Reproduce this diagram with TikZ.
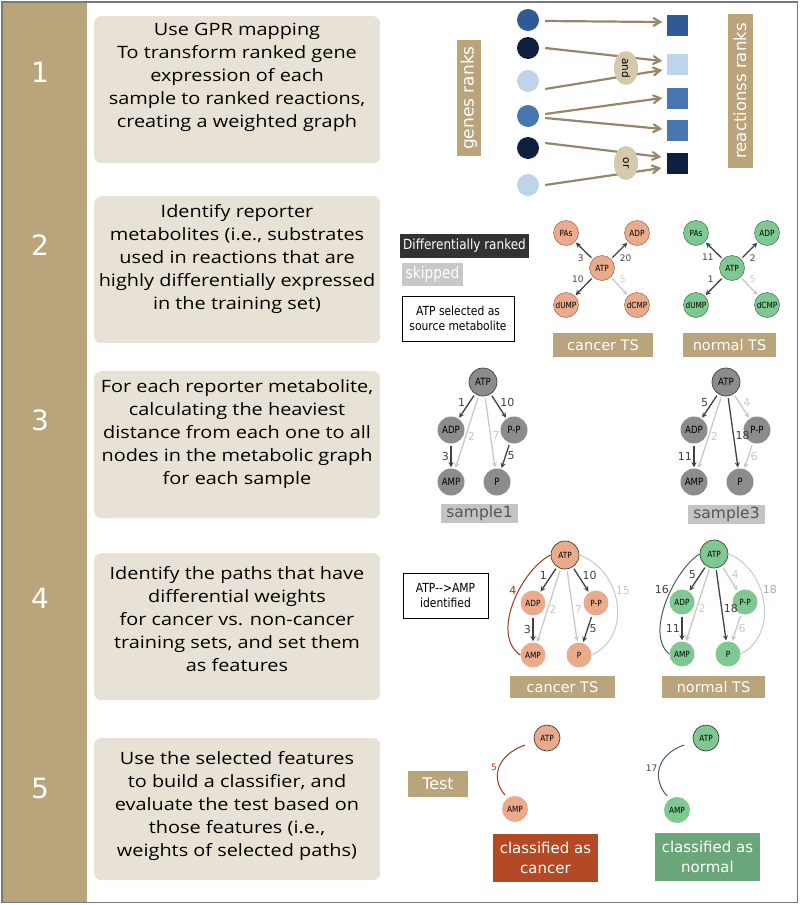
\documentclass[tikz,border=0pt]{standalone}
\usepackage{fontspec}
\setmainfont[FakeStretch=1.17]{Open Sans}
\newfontfamily\vfont{DejaVu Sans}
\newfontfamily\cfont[FakeStretch=0.86]{DejaVu Sans}
\usepackage{tikz}
\usetikzlibrary{arrows,shapes,calc}
\usetikzlibrary{positioning}

\definecolor{tanc}{RGB}{185,164,123}
\definecolor{boxc}{RGB}{232,226,214}
\definecolor{framec}{RGB}{120,120,120}
\definecolor{gatec}{RGB}{214,200,170}
\definecolor{arrtan}{RGB}{150,135,105}
\definecolor{blueA}{RGB}{47,90,150}
\definecolor{blueB}{RGB}{72,118,175}
\definecolor{blueD}{RGB}{14,32,62}
\definecolor{blueL}{RGB}{190,212,234}
\definecolor{salm}{RGB}{234,170,140}
\definecolor{salmb}{RGB}{140,80,55}
\definecolor{greenc}{RGB}{128,200,146}
\definecolor{greenb}{RGB}{45,90,60}
\definecolor{grayn}{RGB}{140,140,140}
\definecolor{darka}{RGB}{65,65,65}
\definecolor{lighta}{RGB}{200,200,200}
\definecolor{brownarc}{RGB}{150,60,30}
\definecolor{slatearc}{RGB}{70,95,85}
\definecolor{lightgrn}{RGB}{150,180,160}
\definecolor{cancc}{RGB}{180,73,38}
\definecolor{normc}{RGB}{106,166,122}
\definecolor{legdark}{RGB}{50,50,50}
\definecolor{smpc}{RGB}{196,196,196}
\definecolor{smptext}{RGB}{85,85,85}

\tikzstyle{stepbox}=[fill=boxc,rounded corners=7pt,minimum width=286pt,inner sep=0]
\tikzstyle{steptext}=[align=center,font=\fontsize{17}{23}\selectfont,inner sep=0]
\tikzstyle{stepnum}=[text=white,font=\vfont\fontsize{28}{28}\selectfont]
\tikzstyle{tag}=[fill=tanc,text=white,inner sep=0pt,font=\vfont\fontsize{14.5}{14.5}\selectfont]
\tikzstyle{smp}=[tag,fill=smpc,text=smptext,minimum width=77pt,minimum height=19pt,font=\vfont\fontsize{15.5}{15.5}\selectfont]
\tikzstyle{gene}=[circle,inner sep=0,minimum size=22pt]
\tikzstyle{rxn}=[inner sep=0,minimum size=21pt]
\tikzstyle{gpr}=[->,>=angle 60,draw=arrtan,line width=2.2pt]
\tikzstyle{gate}=[ellipse,fill=gatec,inner sep=0,minimum width=34pt,minimum height=24pt,rotate=-90,font=\vfont\fontsize{10.5}{10.5}\selectfont]
\tikzstyle{met}=[circle,inner sep=0,minimum size=25pt,font=\cfont\fontsize{8.5}{8.5}\selectfont]
\tikzstyle{cmet}=[met,fill=salm]
\tikzstyle{nmet}=[met,fill=greenc]
\tikzstyle{smet}=[met,fill=grayn,minimum size=27pt,font=\cfont\fontsize{10}{10}\selectfont]
\tikzstyle{rim}=[draw=black!75,line width=0.7pt]
\tikzstyle{hvy}=[->,>=stealth,draw=darka,line width=1.3pt,shorten >=1pt,shorten <=2pt]
\tikzstyle{skp}=[hvy,draw=lighta]
\tikzstyle{wt}=[font=\vfont\fontsize{11}{11}\selectfont,text=darka,inner sep=1.5pt]
\tikzstyle{wts}=[wt,text=lighta]
\tikzstyle{wtt}=[wt,font=\vfont\fontsize{9}{9}\selectfont]
\tikzstyle{legend}=[draw=black,line width=0.8pt,fill=white,align=center,font=\cfont\fontsize{12.5}{15}\selectfont]

\newcommand{\steprow}[6]{\node[stepbox,anchor=north west,minimum height=#3pt] (box#1) at (94,#2) {};
  \node[steptext] (txt#1) at (237,#4) {#5};
  \node[stepnum] (num#1) at (40,#6) {#1};}
\newcommand{\cross}[7]{\node[#3] (#1atp) at #2 {ATP};
  \node[#3] (#1pas) at ($(#1atp)+(-36,-35)$) {PAs};
  \node[#3] (#1adp) at ($(#1atp)+(35,-35)$) {ADP};
  \node[#3] (#1dump) at ($(#1atp)+(-36,37)$) {dUMP};
  \node[#3] (#1dcmp) at ($(#1atp)+(35,37)$) {dCMP};
  \path (#1atp) edge[hvy] node[wtt,below left,pos=.4] {#4} (#1pas)
    edge[hvy] node[wtt,below right,pos=.4] {#5} (#1adp)
    edge[hvy] node[wtt,above left,pos=.4] {#6} (#1dump)
    edge[skp] node[wtt,above right,pos=.4,text=lighta] {#7} (#1dcmp);}
\newcommand{\metnet}[3]{\node[#3,rim,minimum size=28pt] (#1atp) at #2 {ATP};
  \node[#3] (#1adp) at ($(#1atp)+(-32,48)$) {ADP};
  \node[#3] (#1pp) at ($(#1atp)+(31,48)$) {P-P};
  \node[#3] (#1amp) at ($(#1atp)+(-32,100)$) {AMP};
  \node[#3] (#1p) at ($(#1atp)+(14,100)$) {P};}

\begin{document}
\begin{tikzpicture}[x=1pt,y=-1pt]
\useasboundingbox (0,0) rectangle (800,905);
\fill[tanc] (3,3) rectangle (87,902);
\draw[framec,line width=1.2pt] (2,2) rectangle (797.5,902.5);

% steps
\steprow{1}{16}{147}{77.5}{Use GPR mapping\\To transform ranked gene\\expression of each\\sample to ranked reactions,\\creating a weighted graph}{72}
\steprow{2}{196}{147}{259}{Identify reporter\\metabolites (i.e., substrates\\used in reactions that are\\highly differentially expressed\\in the training set)}{245}
\steprow{3}{371}{147}{434}{For each reporter metabolite,\\calculating the heaviest\\distance from each one to all\\nodes in the metabolic graph\\for each sample}{420}
\steprow{4}{553}{147}{619}{Identify the paths that have\\differential weights\\for cancer vs. non-cancer\\training sets, and set them\\as features}{598}
\steprow{5}{738}{142}{806.5}{Use the selected features\\to build a classifier, and\\evaluate the test based on\\those features (i.e.,\\weights of selected paths)}{788}

% 1: GPR mapping
\node[tag,rotate=90,minimum width=116pt,minimum height=24pt,font=\vfont\fontsize{17}{17}\selectfont] (genes) at (469,98) {genes ranks};
\node[tag,rotate=90,minimum width=154pt,minimum height=25pt,font=\vfont\fontsize{16.5}{16.5}\selectfont] (rxns) at (740,91) {reactionss ranks};
\node[gene,fill=blueA] (g1) at (528,20) {};
\node[gene,fill=blueD] (g2) at (528,48) {};
\node[gene,fill=blueL] (g3) at (528,81) {};
\node[gene,fill=blueB] (g4) at (528,116) {};
\node[gene,fill=blueD] (g5) at (528,148) {};
\node[gene,fill=blueL] (g6) at (528,185) {};
\node[rxn,fill=blueA] (r1) at (677,25) {};
\node[rxn,fill=blueL] (r2) at (677,64) {};
\node[rxn,fill=blueB] (r3) at (677,98) {};
\node[rxn,fill=blueB] (r4) at (677,130) {};
\node[rxn,fill=blueD] (r5) at (677,163) {};
\draw[gpr] ($(g1.east)+(6,1)$) -- ($(r1.west)+(-4,-3)$);
\draw[gpr] ($(g2.east)+(6,0)$) -- ($(r2.west)+(-4,-3)$);
\draw[gpr] ($(g3.east)+(6,8)$) -- ($(r2.west)+(-4,6)$);
\draw[gpr] ($(g4.east)+(6,-2)$) -- ($(r3.west)+(-4,0)$);
\draw[gpr] ($(g4.east)+(6,2)$) -- ($(r4.west)+(-4,-1)$);
\draw[gpr] ($(g5.east)+(6,-5)$) -- ($(r5.west)+(-5,-6)$);
\draw[gpr] ($(g6.east)+(6,0)$) -- ($(r5.west)+(-5,5)$);
\node[gate] (and) at (626,68) {and};
\node[gate] (or) at (626,163) {or};

% 2: reporter metabolites
\node[tag,fill=legdark,minimum width=129pt,minimum height=24pt,font=\cfont\fontsize{14}{14}\selectfont] (diff) at (464.5,246) {Differentially ranked};
\node[tag,fill=lighta,minimum width=61pt,minimum height=23pt,font=\cfont\fontsize{16}{16}\selectfont] (skip) at (432.5,274.5) {skipped};
\node[legend,minimum width=112pt,minimum height=45pt] (src) at (458,318.5) {ATP selected as\\source metabolite};
\cross{c2}{(602,268)}{cmet,draw=salmb}{3}{20}{10}{5}
\cross{n2}{(732,268)}{nmet,draw=greenb}{11}{2}{1}{5}
\node[tag,minimum width=100pt,minimum height=24pt] (c2tag) at (603,345) {cancer TS};
\node[tag,minimum width=93pt,minimum height=24pt] (n2tag) at (729.5,345) {normal TS};

% 3: heaviest distances
\metnet{s1}{(483,382)}{smet}
\path (s1atp) edge[hvy] node[wt,left=2pt,pos=.35] {1} (s1adp)
  edge[hvy] node[wt,right=2pt,pos=.35] {10} (s1pp)
  edge[skp] node[wts,right,pos=.55] {2} (s1amp)
  edge[skp] node[wts,right,pos=.55] {7} (s1p);
\path (s1adp) edge[hvy] node[wt,left] {3} (s1amp);
\path (s1pp) edge[hvy] node[wt,right] {5} (s1p);
\node[smp] (s1tag) at (479.5,513.5) {sample1};

\metnet{s3}{(726,382)}{smet}
\path (s3atp) edge[hvy] node[wt,left=2pt,pos=.35] {5} (s3adp)
  edge[skp] node[wts,right=2pt,pos=.35] {4} (s3pp)
  edge[skp] node[wts,right,pos=.55] {2} (s3amp)
  edge[hvy] node[wt,right,pos=.55] {18} (s3p);
\path (s3adp) edge[hvy] node[wt,left] {11} (s3amp);
\path (s3pp) edge[skp] node[wts,right] {6} (s3p);
\node[smp] (s3tag) at (726.5,514) {sample3};

% 4: differential paths
\node[legend,minimum width=85pt,minimum height=45pt] (found) at (445.5,595.5) {ATP-{}->AMP\\identified};
\metnet{c4}{(565,555)}{cmet}
\path (c4atp) edge[hvy] node[wt,left=2pt,pos=.35] {1} (c4adp)
  edge[hvy] node[wt,right=2pt,pos=.35] {10} (c4pp)
  edge[skp] node[wts,right,pos=.55] {2} (c4amp)
  edge[skp] node[wts,right,pos=.55] {7} (c4p);
\path (c4adp) edge[hvy] node[wt,left] {3} (c4amp);
\path (c4pp) edge[hvy] node[wt,right] {5} (c4p);
\draw[brownarc,line width=1pt] (c4atp.west) .. controls +(-30,15) and +(-30,-20) .. (c4amp.west) node[wt,text=brownarc,pos=.4,left] {4};
\draw[lighta,line width=1pt] (c4atp.east) .. controls +(42,15) and +(42,-20) .. (c4p.east) node[wts,pos=.4,right] {15};
\node[tag,minimum width=105pt,minimum height=22pt] (c4tag) at (562.5,687) {cancer TS};

\metnet{n4}{(714,554)}{nmet}
\path (n4atp) edge[hvy] node[wt,left=2pt,pos=.35] {5} (n4adp)
  edge[skp] node[wts,right=2pt,pos=.35] {4} (n4pp)
  edge[skp] node[wts,right,pos=.55] {2} (n4amp)
  edge[hvy] node[wt,right,pos=.55] {18} (n4p);
\path (n4adp) edge[hvy] node[wt,left] {11} (n4amp);
\path (n4pp) edge[skp] node[wts,right] {6} (n4p);
\draw[slatearc,line width=1pt] (n4atp.west) .. controls +(-25,15) and +(-25,-20) .. (n4amp.west) node[wt,pos=.4,left] {16};
\draw[lighta,line width=1pt] (n4atp.east) .. controls +(39,15) and +(39,-20) .. (n4p.east) node[wt,text=lightgrn,pos=.4,right] {18};
\node[tag,minimum width=103pt,minimum height=22pt] (n4tag) at (713.5,687) {normal TS};

% 5: classification
\node[tag,minimum width=60pt,minimum height=26pt,font=\vfont\fontsize{16}{16}\selectfont] (test) at (438,784) {Test};
\node[cmet,rim,minimum size=26pt] (t5catp) at (547,738) {ATP};
\node[cmet,minimum size=26pt] (t5camp) at (515,809) {AMP};
\draw[brownarc,line width=1pt] ($(t5catp)+(-22,7)$) .. controls +(-28,10) and +(-15,-17) .. ($(t5camp)+(-10,-14)$) node[wtt,text=brownarc,pos=.5,left] {5};
\node[tag,fill=cancc,align=center,minimum width=105pt,minimum height=48pt,font=\vfont\fontsize{15}{20}\selectfont] (cres) at (545.5,858) {classified as\\cancer};
\node[nmet,rim,minimum size=26pt] (t5natp) at (706,738) {ATP};
\node[nmet,minimum size=26pt] (t5namp) at (677,810) {AMP};
\draw[slatearc,line width=1pt] ($(t5natp)+(-22,7)$) .. controls +(-28,10) and +(-15,-17) .. ($(t5namp)+(-10,-14)$) node[wtt,pos=.5,left] {17};
\node[tag,fill=normc,align=center,minimum width=105pt,minimum height=48pt,font=\vfont\fontsize{15}{20}\selectfont] (nres) at (707.5,857) {classified as\\normal};
\end{tikzpicture}
\end{document}
